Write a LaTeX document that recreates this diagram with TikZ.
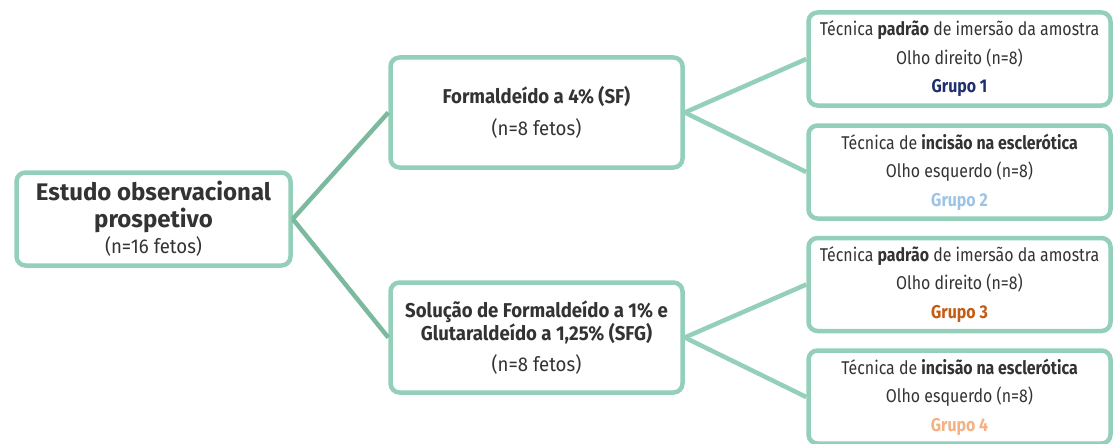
\documentclass[tikz,border=0pt]{standalone}
\usepackage{fontspec}
\setmainfont[FakeStretch=0.86]{Fira Sans}
\newfontfamily\midfont[FakeStretch=0.93]{Fira Sans}
\newfontfamily\titlefont{Fira Sans}
\usepackage{xcolor}
\usetikzlibrary{positioning}
\definecolor{boxgreen}{RGB}{148,207,185}
\definecolor{linkdark}{RGB}{124,186,160}
\definecolor{txtgray}{RGB}{51,51,51}
\definecolor{grupoA}{RGB}{31,48,110}
\definecolor{grupoB}{RGB}{157,195,230}
\definecolor{grupoC}{RGB}{197,90,17}
\definecolor{grupoD}{RGB}{244,177,131}
\tikzset{
    estbox/.style={
        draw=boxgreen,
        line width=4.5pt,
        rounded corners=9pt,
        fill=white,
        text=txtgray,
        align=center,
        inner sep=0pt
    },
    tecbox/.style={
        estbox,
        minimum width=302pt,
        minimum height=93pt,
        font=\fontsize{18.5}{28.5}\selectfont
    },
    solbox/.style={
        estbox,
        minimum width=292pt,
        minimum height=110pt
    },
    linkL/.style={
        draw=linkdark,
        line width=4.5pt
    },
    linkR/.style={
        draw=boxgreen,
        line width=4.5pt
    }
}

\begin{document}
\begin{tikzpicture}[x=1pt,y=-1pt]
        \clip (0,0) rectangle (1113,444);
        \useasboundingbox (0,0) rectangle (1113,444);

        % study box
        \node[estbox, minimum width=274pt, minimum height=93pt,
              font=\fontsize{24}{26.5}\selectfont] (estudo) at (153.5,219)
            {{\titlefont\bfseries Estudo observacional}\\
             {\titlefont\bfseries prospetivo}\\
             {\midfont\fontsize{20}{26.5}\selectfont (n=16 fetos)}};

        % fixative boxes
        \node[solbox, font=\midfont\fontsize{20}{24}\selectfont] (sf) at (536.5,112.5)
            {{\bfseries Formaldeído a 4\% (SF)}\\[8pt]
             (n=8 fetos)};
        \node[solbox, font=\midfont\fontsize{20}{22}\selectfont] (sfg) at (536.5,337.5)
            {{\bfseries Solução de Formaldeído a 1\% e}\\
             {\bfseries Glutaraldeído a 1,25\% (SFG)}\\[9pt]
             (n=8 fetos)};

        % technique boxes
        \node[tecbox] (g1) at (959.5,59)
            {Técnica \textbf{padrão} de imersão da amostra\\Olho direito (n=8)\\
             \textcolor{grupoA}{\bfseries Grupo 1}};
        \node[tecbox] (g2) at (959.5,172)
            {Técnica de \textbf{incisão na esclerótica}\\Olho esquerdo (n=8)\\
             \textcolor{grupoB}{\bfseries Grupo 2}};
        \node[tecbox] (g3) at (959.5,284.5)
            {Técnica \textbf{padrão} de imersão da amostra\\Olho direito (n=8)\\
             \textcolor{grupoC}{\bfseries Grupo 3}};
        \node[tecbox] (g4) at (959.5,397)
            {Técnica de \textbf{incisão na esclerótica}\\Olho esquerdo (n=8)\\
             \textcolor{grupoD}{\bfseries Grupo 4}};

        % connectors
        \draw[linkL] (estudo.east) -- (sf.west);
        \draw[linkL] (estudo.east) -- (sfg.west);
        \foreach \src/\dst in {sf/g1, sf/g2, sfg/g3, sfg/g4}
        {
            \draw[linkR] (\src.east) -- (\dst.west);
        }
    \end{tikzpicture}
\end{document}
